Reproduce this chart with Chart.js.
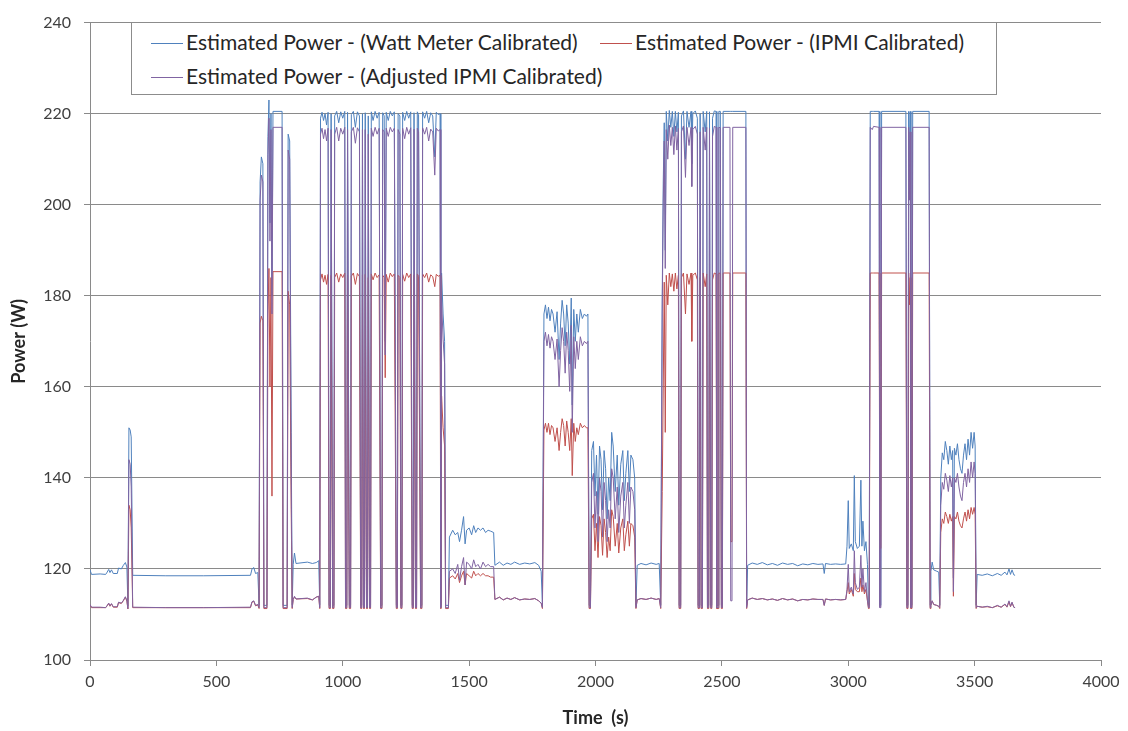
<!DOCTYPE html>
<html>
<head>
<meta charset="utf-8">
<script src="https://cdn.jsdelivr.net/npm/chart.js@4.4.1/dist/chart.umd.min.js"></script>
<style>
  html, body { margin: 0; padding: 0; background: #ffffff; }
  #wrap { position: relative; width: 1128px; height: 731px; }
  #c { position: absolute; left: 0; top: 0; }
  #legend {
    position: absolute; left: 131px; top: 22px; width: 866px; height: 73px;
    border: 1px solid #8c8c8c; background: #ffffff; box-sizing: border-box;
    font-family: Lato, "Open Sans", sans-serif; font-size: 21px; color: #262626;
  }
  .li { position: absolute; white-space: nowrap; line-height: 22px; }
  .li .sw { display: inline-block; width: 32px; height: 0; border-top: 1px solid; vertical-align: middle; margin-right: 3px; position: relative; top: -1px; }
</style>
</head>
<body>
<div id="wrap">
  <canvas id="c" width="1128" height="731"></canvas>
  <div id="legend"></div>
</div>
<script>
// ---- Data ----
const seriesNames = [
  'Estimated Power - (Watt Meter Calibrated)',
  'Estimated Power - (IPMI Calibrated)',
  'Estimated Power - (Adjusted IPMI Calibrated)'
];
const seriesColors = ['#4F81BD', '#C0504D', '#8064A2'];
const xTicks = [0, 500, 1000, 1500, 2000, 2500, 3000, 3500, 4000];
const yTicks = [100, 120, 140, 160, 180, 200, 220, 240];

// time (s)
const timeS = [
  0,6,40,62,68,74,79,85,92,108,113,124,132,140,146,150,154,159,163,169,
  300,450,635,641,648,655,664,669,673,678,684,688,700,704,708,712,716,720,724,760,764,780,784,790,796,800,804,809,815,860,880,895,905,909,
  912,918,924,930,936,942,946,951,954,960,965,968,976,984,992,1000,1008,1011,1016,1019,1026,1031,1034,1042,1050,1058,1066,1071,1075,1078,1082,1086,1089,1094,1098,1101,1106,1110,1113,
  1120,1128,1136,1144,1150,1155,1158,1164,1168,1172,1180,1188,1196,1204,1212,1216,1219,1226,1230,1234,1237,1245,1253,1261,1269,1275,1279,1282,1288,1292,1295,1300,1308,1313,1316,1324,1332,1340,1348,1356,1364,1370,1378,1385,1388,1391,1397,1403,1407,1418,
  1422,1435,1445,1455,1462,1470,1478,1484,1490,1500,1510,1518,1526,1535,1545,1555,1565,1575,1585,1597,
  1602,1620,1635,1650,1665,1680,1700,1720,1740,1760,1775,1785,1790,
  1796,1802,1808,1814,1820,1826,1832,1840,1848,1856,1862,1868,1874,1880,1886,1892,1898,1904,1908,1914,1920,1926,1932,1940,1948,1956,1964,1970,1975,1980,
  1985,1992,1998,2004,2010,2016,2022,2028,2034,2040,2046,2052,2058,2064,2070,2078,2086,2092,2100,2108,2114,2120,2128,2134,2140,2148,2155,2160,
  2165,2180,2200,2220,2240,2252,2258,
  2264,2268,2272,2276,2280,2286,2292,2298,2304,2310,2316,2322,2328,2331,2337,2340,2348,2356,2362,2370,2378,2381,2385,2395,2403,2406,2411,2414,2418,2423,2426,2434,2440,2443,2448,2451,2456,2460,2463,2470,2477,2480,2485,2488,2494,2498,2502,2505,2532,2535,2540,2543,2595,2598,
  2602,2620,2640,2660,2680,2700,2720,2740,2760,2780,2800,2820,2840,2860,2880,2900,2905,2910,2930,2950,2970,2990,
  2995,3000,3004,3012,3020,3024,3028,3036,3044,3050,3054,3058,3064,3070,3076,3080,3083,
  3087,3095,3100,3122,3125,3129,3132,3228,3232,3236,3239,3242,3245,3248,3252,3255,3320,3324,
  3327,3332,3338,3350,3358,3362,
  3366,3372,3378,3384,3390,3396,3402,3408,3413,3416,3420,3426,3432,3438,3444,3450,3456,3462,3468,3474,3480,3486,3492,3498,3502,3506,
  3510,3530,3550,3570,3590,3605,3620,3628,3636,3642,3648,3655,3660
];

// Watt Meter calibrated (W)
const wattMeterW = [
  119.8,118.8,118.9,118.8,119.3,119.9,119.2,119.8,119.0,119.0,120.2,120.0,120.8,121.4,120.4,111.8,151.0,150.5,149.0,118.6,
  118.5,118.5,118.6,120.0,120.3,119.0,119.2,112.0,205.0,210.5,209.0,112.0,112.0,215.0,223.0,196.0,220.0,180.0,220.5,220.5,112.0,112.0,215.5,214.0,150.0,112.0,121.0,123.5,121.2,121.5,121.2,121.4,121.8,112.0,
  219.0,220.3,218.5,220.0,217.5,220.3,112.0,112.0,220.0,112.0,112.0,219.5,220.5,218.0,220.4,219.0,220.5,112.0,112.0,220.3,112.0,112.0,219.8,220.5,217.0,220.4,219.5,112.0,112.0,220.0,112.0,112.0,220.2,112.0,112.0,219.5,112.0,112.0,220.4,
  218.5,220.5,219.0,220.3,112.0,112.0,220.2,219.5,170.0,220.3,218.5,220.5,219.5,220.4,112.0,112.0,220.0,219.5,112.0,112.0,220.3,218.5,220.5,219.0,220.4,112.0,112.0,220.2,112.0,112.0,220.4,219.8,112.0,112.0,220.4,219.0,220.5,218.0,220.2,219.5,210.5,220.3,219.8,220.0,112.0,185.0,176.0,170.0,112.0,112.0,
  127.0,128.5,127.5,128.0,126.0,128.5,131.5,125.5,128.5,129.0,127.5,129.5,128.0,129.0,128.5,129.0,128.0,128.5,128.3,128.0,
  120.8,121.5,120.8,121.3,121.0,121.5,121.0,121.3,121.1,121.4,120.8,119.5,112.0,
  176.0,178.0,175.0,177.5,174.5,177.0,176.0,172.0,176.5,166.0,174.0,179.0,176.0,169.0,178.0,174.0,165.0,179.5,156.0,177.0,170.0,176.0,172.0,177.0,175.0,176.0,175.5,176.0,112.0,112.0,
  146.0,148.0,136.0,145.0,132.0,147.0,144.0,133.0,146.0,142.0,131.0,140.0,135.0,150.0,147.0,137.0,145.0,134.0,143.0,146.0,135.0,141.0,146.0,137.0,145.0,144.0,140.0,112.0,
  120.8,121.2,120.9,121.3,121.0,121.2,112.0,
  180.0,205.0,218.0,190.0,220.5,214.0,220.7,217.0,220.5,215.0,220.5,216.0,220.3,112.0,112.0,219.5,220.6,210.0,220.5,217.0,220.5,209.0,220.0,220.6,219.0,112.0,112.0,220.0,112.0,112.0,220.5,216.0,220.5,112.0,112.0,220.4,112.0,112.0,219.0,220.6,220.5,112.0,112.0,220.5,220.5,112.0,112.0,220.5,220.5,220.5,220.5,220.5,220.5,112.0,
  120.8,121.3,121.0,121.4,120.9,121.2,120.8,121.3,121.0,121.2,120.7,121.1,120.9,121.2,121.0,121.1,119.0,121.2,121.0,121.1,121.0,121.1,
  125.0,135.0,124.5,125.5,124.0,140.5,126.0,124.5,125.0,139.5,125.0,130.5,124.0,126.0,121.0,112.0,112.0,
  220.5,220.5,220.5,220.5,112.0,112.0,220.5,220.5,112.0,112.0,220.5,205.0,220.5,112.0,112.0,220.5,220.5,112.0,
  119.5,121.5,119.8,119.5,119.3,112.0,
  140.0,145.5,144.0,148.0,146.0,143.0,147.0,144.0,146.0,118.0,146.5,145.0,147.5,144.0,142.0,141.0,145.0,147.5,144.0,148.5,145.0,150.0,146.5,150.0,147.0,112.0,
  118.8,118.6,118.9,118.5,119.0,118.6,119.3,118.7,120.0,118.8,119.8,118.7,118.6
];

// IPMI calibrated (W)
const ipmiW = [
  112.1,111.5,111.5,111.5,111.9,112.4,111.8,112.3,111.6,111.6,112.6,112.4,113.0,113.8,112.9,111.2,134.0,133.0,129.0,111.5,
  111.5,111.5,111.5,112.7,112.9,111.9,112.1,111.3,174.0,175.5,174.5,111.3,111.3,176.0,186.0,160.0,184.0,136.0,185.3,185.3,111.3,111.3,181.0,178.0,133.0,111.3,113.3,113.8,113.4,113.5,113.2,113.8,114.0,111.3,
  183.5,184.8,183.0,184.5,182.5,184.7,111.3,111.3,184.5,111.3,111.3,184.0,185.0,183.0,184.8,184.0,185.0,111.3,111.3,184.5,111.3,111.3,184.3,185.0,182.5,184.9,184.2,111.3,111.3,184.6,111.3,111.3,184.7,111.3,111.3,184.0,111.3,111.3,184.8,
  183.5,185.0,184.0,184.6,111.3,111.3,184.5,184.0,162.0,184.7,183.0,185.0,184.2,184.8,111.3,111.3,184.5,184.0,111.3,111.3,184.7,183.2,185.0,184.0,184.8,111.3,111.3,184.6,111.3,111.3,184.8,184.3,111.3,111.3,184.8,184.0,185.0,183.0,184.6,184.2,182.0,184.7,184.3,184.5,111.3,158.0,151.0,147.0,111.3,111.3,
  118.0,118.5,117.8,119.0,117.0,118.5,119.5,116.5,119.0,118.5,118.0,119.5,118.5,119.0,118.5,119.0,118.5,118.5,118.2,118.2,
  113.3,113.8,113.2,113.6,113.3,113.7,113.2,113.4,113.3,113.5,113.0,112.5,111.3,
  150.5,152.0,150.0,152.0,149.5,151.5,151.0,148.0,151.0,146.0,150.0,153.0,151.5,147.0,152.5,150.0,146.0,153.0,140.5,152.0,148.0,151.0,149.5,152.0,151.0,151.5,151.0,151.0,111.3,111.3,
  131.0,132.0,124.0,130.0,122.5,131.5,129.5,123.0,131.0,128.0,122.5,127.0,124.0,133.0,131.5,125.0,130.0,123.5,129.0,131.0,124.0,127.5,130.5,125.0,130.0,129.5,127.0,111.3,
  113.2,113.5,113.3,113.6,113.3,113.5,111.3,
  137.0,160.0,183.0,150.0,184.5,178.0,185.0,182.0,184.8,181.0,185.0,181.5,184.5,111.3,111.3,184.0,185.0,176.0,184.8,182.5,185.0,170.0,184.5,185.0,183.5,111.3,111.3,184.0,111.3,111.3,185.0,182.0,184.8,111.3,111.3,184.6,111.3,111.3,183.5,185.0,184.8,111.3,111.3,185.0,184.9,111.3,111.3,185.0,185.0,126.0,126.0,185.0,185.0,111.3,
  113.2,113.6,113.3,113.5,113.2,113.4,113.1,113.5,113.2,113.4,113.0,113.3,113.2,113.4,113.3,113.3,112.0,113.4,113.2,113.3,113.2,113.3,
  115.0,117.0,114.5,115.5,114.0,119.0,115.5,115.0,115.0,118.0,115.0,116.5,114.5,115.5,113.0,111.3,111.3,
  185.0,185.0,185.0,185.0,124.5,124.5,185.0,185.0,111.3,111.3,185.0,178.0,184.0,111.3,111.3,185.0,185.0,111.3,
  112.0,113.0,112.2,112.0,111.8,111.3,
  128.0,131.0,130.0,132.5,131.5,130.0,132.0,130.5,131.5,114.0,131.5,131.0,132.5,130.5,129.5,129.0,131.0,132.5,130.5,133.0,131.0,133.5,132.0,133.5,132.0,111.3,
  111.8,111.6,111.7,111.5,111.9,111.6,112.2,111.6,112.8,111.7,112.6,111.6,111.5
];

// Adjusted IPMI calibrated (W)
const adjIpmiW = [
  112.2,111.6,111.6,111.5,112.0,112.5,111.9,112.4,111.7,111.7,112.7,112.5,113.1,113.9,113.0,111.3,144.0,143.0,138.0,111.6,
  111.5,111.5,111.6,112.8,113.0,112.0,112.2,111.5,201.0,206.5,205.0,111.5,111.5,211.0,219.0,192.0,216.5,176.0,217.0,217.0,111.5,111.5,212.0,210.0,140.0,111.5,113.3,114.0,113.4,113.6,113.2,113.8,114.0,111.5,
  215.5,216.8,214.5,216.5,214.0,216.8,111.5,111.5,216.5,111.5,111.5,215.5,217.0,214.0,216.8,215.5,217.0,111.5,111.5,216.5,111.5,111.5,216.0,217.0,213.5,216.9,216.0,111.5,111.5,216.5,111.5,111.5,216.5,111.5,111.5,215.5,111.5,111.5,216.8,
  215.0,217.0,215.5,216.8,111.5,111.5,216.5,216.0,167.0,216.8,215.0,217.0,216.0,216.8,111.5,111.5,216.5,215.5,111.5,111.5,216.8,214.5,217.0,215.5,216.9,111.5,111.5,216.6,111.5,111.5,216.8,216.0,111.5,111.5,216.9,215.5,217.0,214.0,216.6,216.0,206.5,216.8,216.2,216.5,111.5,179.0,170.5,165.0,111.5,111.5,
  119.5,120.0,119.0,121.0,117.5,120.5,122.5,116.5,121.5,121.0,120.0,122.0,120.5,121.0,120.0,121.5,120.5,121.0,120.5,120.5,
  113.3,113.8,113.2,113.6,113.3,113.7,113.2,113.4,113.3,113.5,113.0,112.5,111.5,
  170.0,172.0,169.0,171.5,168.5,171.0,170.0,166.0,170.5,160.0,168.0,173.0,170.0,163.0,172.0,168.0,159.0,173.5,150.0,171.0,164.0,170.0,166.0,171.0,169.0,170.0,169.5,170.0,111.5,111.5,
  139.0,141.0,129.0,137.0,126.0,140.0,137.0,127.0,139.0,135.0,126.0,133.0,129.0,142.0,140.0,131.0,138.0,128.0,136.0,139.0,129.0,134.0,139.0,130.0,138.0,137.0,133.0,111.5,
  113.2,113.5,113.3,113.6,113.3,113.5,111.5,
  176.0,200.0,214.0,186.0,216.5,210.0,217.5,213.0,217.0,211.0,217.3,212.0,216.8,111.5,111.5,216.0,217.3,206.0,217.0,213.0,217.0,204.0,216.5,217.2,215.5,111.5,111.5,216.0,111.5,111.5,217.0,212.0,217.0,111.5,111.5,216.8,111.5,111.5,215.0,217.2,217.0,111.5,111.5,217.0,216.9,111.5,111.5,217.0,217.0,113.0,113.0,217.0,217.0,111.5,
  113.2,113.6,113.3,113.5,113.2,113.4,113.1,113.5,113.2,113.4,113.0,113.3,113.2,113.4,113.3,113.3,112.0,113.4,113.2,113.3,113.2,113.3,
  115.5,121.0,115.0,116.0,114.5,124.0,117.0,115.5,116.0,123.0,116.0,120.0,115.0,117.0,113.0,111.5,111.5,
  217.0,216.5,217.2,217.0,111.5,111.5,217.0,217.0,111.5,111.5,217.0,201.0,216.0,111.5,111.5,217.0,217.0,111.5,
  112.0,113.0,112.2,112.0,111.8,111.5,
  134.0,139.0,137.5,141.0,139.5,137.0,140.5,138.0,140.0,115.0,140.0,139.0,141.0,138.0,136.0,135.0,139.0,141.0,138.0,142.0,139.0,143.5,140.0,143.5,141.0,111.5,
  111.8,111.6,111.8,111.5,112.0,111.6,112.3,111.7,113.0,111.8,112.7,111.6,111.5
];

const seriesValues = [wattMeterW, ipmiW, adjIpmiW];
if (!seriesValues.every(a => a.length === timeS.length)) {
  console.error('length mismatch', timeS.length, wattMeterW.length, ipmiW.length, adjIpmiW.length);
}

// ---- Legend (HTML, inside plot like the reference) ----
const legendPos = [[19, 8], [468, 8], [19, 42]];
const legend = document.getElementById('legend');
seriesNames.forEach((name, i) => {
  const d = document.createElement('div');
  d.className = 'li';
  d.style.left = legendPos[i][0] + 'px';
  d.style.top = legendPos[i][1] + 'px';
  const sw = document.createElement('span');
  sw.className = 'sw';
  sw.style.borderTopColor = seriesColors[i];
  d.appendChild(sw);
  d.appendChild(document.createTextNode(name));
  legend.appendChild(d);
});

// ---- Chart ----
const FONT = 'Lato, "Open Sans", sans-serif';
const axisGray = '#8a8a8a';
const drawOrder = [3, 2, 1];

new Chart(document.getElementById('c'), {
  type: 'line',
  data: {
    datasets: seriesNames.map((name, i) => ({
      label: name,
      data: timeS.map((t, k) => ({ x: t, y: seriesValues[i][k] })),
      borderColor: seriesColors[i],
      backgroundColor: seriesColors[i],
      borderWidth: 1,
      pointRadius: 0,
      tension: 0,
      fill: false,
      order: drawOrder[i]
    }))
  },
  options: {
    responsive: false,
    animation: false,
    devicePixelRatio: 1,
    layout: { padding: { left: 0, top: 17, right: 27, bottom: 0 } },
    plugins: { legend: { display: false }, tooltip: { enabled: false } },
    scales: {
      x: {
        type: 'linear', min: xTicks[0], max: xTicks[xTicks.length - 1],
        afterBuildTicks: s => { s.ticks = xTicks.map(v => ({ value: v })); },
        afterFit: s => { s.height = 71; },
        grid: { drawOnChartArea: false, drawTicks: true, tickLength: 6, color: axisGray },
        border: { color: axisGray, width: 1 },
        ticks: { color: '#404040', font: { family: FONT, size: 16 }, padding: 6, maxRotation: 0, autoSkip: false,
                 callback: v => String(v) },
        title: { display: true, text: 'Time  (s)', color: '#262626', font: { family: FONT, size: 18, weight: 'bold' }, padding: { top: 4, bottom: 2 } }
      },
      y: {
        type: 'linear', min: yTicks[0], max: yTicks[yTicks.length - 1],
        afterBuildTicks: s => { s.ticks = yTicks.map(v => ({ value: v })); },
        afterFit: s => { s.width = 90; },
        grid: { color: axisGray, tickLength: 6, drawTicks: true },
        border: { color: axisGray, width: 1 },
        ticks: { color: '#404040', font: { family: FONT, size: 16 }, padding: 13, callback: v => String(v) },
        title: { display: true, text: 'Power (W)', color: '#262626', font: { family: FONT, size: 18, weight: 'bold' }, padding: { top: 8, bottom: 4 } }
      }
    }
  }
});
</script>
</body>
</html>
